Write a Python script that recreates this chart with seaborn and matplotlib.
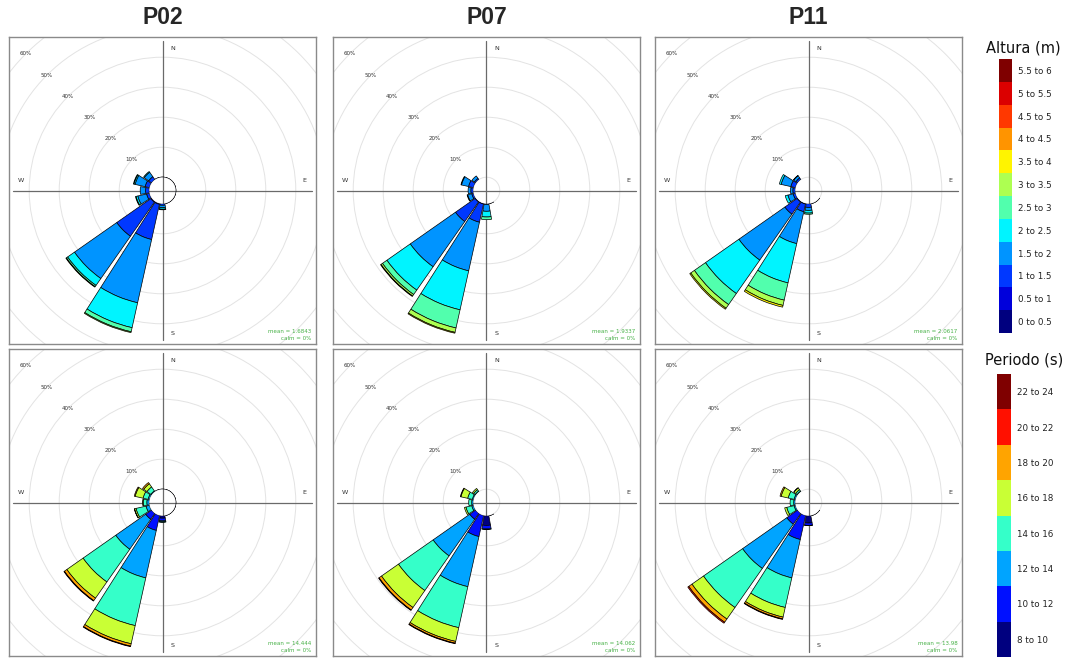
import numpy as np
import matplotlib
matplotlib.use("Agg")
import matplotlib.pyplot as plt
import seaborn as sns
from matplotlib.colors import ListedColormap
from matplotlib.patches import Circle

sns.set_theme(style="white")
plt.rcParams['font.family'] = ['DejaVu Sans']

# ---------------- data ----------------
STATIONS = ["P02", "P07", "P11"]
ALTURA_BINS = ["0 to 0.5", "0.5 to 1", "1 to 1.5", "1.5 to 2", "2 to 2.5", "2.5 to 3",
               "3 to 3.5", "3.5 to 4", "4 to 4.5", "4.5 to 5", "5 to 5.5", "5.5 to 6"]
PERIODO_BINS = ["8 to 10", "10 to 12", "12 to 14", "14 to 16", "16 to 18",
                "18 to 20", "20 to 22", "22 to 24"]
JET_ANCHORS = ["#00007F", "#0000FF", "#007FFF", "#00FFFF", "#7FFF7F",
               "#FFFF00", "#FF7F00", "#FF0000", "#7F0000"]

# frequency (%) per direction sector, stacked by bin (lowest bin first)
P02_ALTURA = {337.5: [0.05], 0: [0.05], 22.5: [0.05], 45: [0.05], 67.5: [0.05],
              90: [0.05], 112.5: [0.05], 135: [0.05], 157.5: [0.05],
              180: [0, 0, 0.5, 0.8, 0.5, 0.2],
              202.5: [0, 0.3, 12.0, 21.6, 8.5, 1.4, 0.3],
              225: [0, 0.3, 13.9, 17.2, 2.8, 0.5, 0.2],
              247.5: [0, 0, 1.0, 3.0, 0.6, 0.2],
              270: [0, 0, 1.2, 1.8],
              292.5: [0, 0, 1.5, 3.4, 0.4, 0.2],
              315: [0, 0, 1.2, 1.8, 0.3]}
P07_ALTURA = {157.5: [0.05],
              180: [0, 0, 0.2, 2.3, 1.9, 0.9],
              202.5: [0, 0.2, 6.2, 16.6, 13.3, 6.2, 1.5, 0.3],
              225: [0, 0.2, 8.0, 18.4, 9.5, 1.8, 0.6, 0.2],
              247.5: [0, 0, 0.6, 1.4, 0.2],
              270: [0, 0, 0.8, 0.9],
              292.5: [0, 0, 1.7, 2.4, 0.2],
              315: [0, 0, 0.5, 1.0]}
P11_ALTURA = {135: [0.05], 157.5: [0.05],
              180: [0, 0, 1.2, 1.0, 0.9, 0.4],
              202.5: [0, 0.2, 2.6, 10.9, 13.4, 5.9, 1.8, 0.6],
              225: [0, 0.2, 5.0, 18.7, 13.6, 4.5, 1.5, 0.4],
              247.5: [0, 0, 0.8, 1.8, 0.9],
              270: [0, 0, 0.8, 0.8],
              292.5: [0, 0, 1.6, 3.3, 0.6],
              315: [0, 0, 0.7, 0.9, 0.1]}
P02_PERIODO = {337.5: [0.05], 0: [0.05], 22.5: [0.05], 45: [0.05], 67.5: [0.05],
               90: [0.05], 112.5: [0.05], 135: [0.05], 157.5: [0.05],
               180: [0.8, 0.9, 0.3, 0.2],
               202.5: [0, 5.1, 16.2, 16.3, 6.2, 0.8, 0.2],
               225: [0, 2.4, 12.2, 13.3, 6.6, 1.0, 0.2],
               247.5: [0, 0, 1.2, 3.4, 0.5, 0.1],
               270: [0, 0, 0.8, 1.2, 0.2],
               292.5: [0, 0, 0.5, 1.7, 2.7, 0.3],
               315: [0, 0, 0.3, 1.6, 1.3, 0.5]}
P07_PERIODO = {157.5: [0.05],
               180: [3.2, 1.2, 0.2],
               202.5: [0, 7.2, 17.1, 14.0, 4.7, 0.6, 0.2],
               225: [0, 2.4, 14.9, 14.1, 6.9, 1.0, 0.2],
               247.5: [0, 0, 0.6, 2.0, 0.5],
               270: [0, 0, 0.5, 1.0],
               292.5: [0, 0, 0.4, 1.6, 2.3, 0.2],
               315: [0, 0, 0.2, 0.6, 0.5]}
P11_PERIODO = {135: [0.05], 157.5: [0.05],
               180: [2.4, 0.8, 0.1],
               202.5: [0, 8.2, 13.1, 10.1, 3.3, 0.6, 0.2],
               225: [0, 4.4, 18.0, 15.9, 4.7, 1.3, 0.4],
               247.5: [0, 0, 0.5, 2.5, 0.7],
               270: [0, 0, 0.5, 1.2],
               292.5: [0, 0, 0.5, 2.0, 2.4, 0.4],
               315: [0, 0, 0.2, 0.6, 0.7, 0.1]}
MEANS_ALTURA = ["1.6843", "1.9337", "2.0617"]
MEANS_PERIODO = ["14.444", "14.062", "13.98"]
GRID_PCT = [0, 10, 20, 30, 40, 50, 60]

ALT_COLORS = sns.blend_palette(JET_ANCHORS, n_colors=len(ALTURA_BINS))
PER_COLORS = sns.blend_palette(JET_ANCHORS, n_colors=len(PERIODO_BINS))

# ---------------- layout ----------------
FW, FH = 1068, 660
fig = plt.figure(figsize=(FW / 100, FH / 100), dpi=100)
BOX = 307          # panel size in px
PX_PER_UNIT = 3.0  # 10 % = 30 px
HALF = BOX / 2 / PX_PER_UNIT
HOLE = 4.43
AXLINE = 49.7
CENTERS_X = [162.5, 486.5, 808.5]
CENTERS_Y = [190.5, 502.5]
GREEN = "#45b045"


def rect_for(cx, cy, w, h):
    return [(cx - w / 2) / FW, 1 - (cy + h / 2) / FH, w / FW, h / FH]


def panel(cx, cy, data, colors, mean_txt, tag):
    rect = rect_for(cx, cy, BOX, BOX)
    ax = fig.add_axes(rect, label="bg" + tag)
    ax.set_xlim(-HALF, HALF)
    ax.set_ylim(-HALF, HALF)
    ax.set_xticks([])
    ax.set_yticks([])
    for s in ax.spines.values():
        s.set_visible(True)
        s.set_color("#8a8a8a")
        s.set_linewidth(1.0)
    for p in GRID_PCT:
        ax.add_patch(Circle((0, 0), HOLE + p, fill=False, ec="#e3e3e3", lw=0.7))
    ax.plot([-AXLINE, AXLINE], [0, 0], color="#6a6a6a", lw=0.9)
    ax.plot([0, 0], [-AXLINE, AXLINE], color="#6a6a6a", lw=0.9)
    fs = 4.6
    ax.text(3.3, 47.3, "N", fontsize=fs, ha="center", va="center", color="#333333")
    ax.text(3.3, -47.6, "S", fontsize=fs, ha="center", va="center", color="#333333")
    ax.text(-47.3, 3.3, "W", fontsize=fs, ha="center", va="center", color="#333333")
    ax.text(47.3, 3.3, "E", fontsize=fs, ha="center", va="center", color="#333333")
    for p in GRID_PCT[1:]:
        r = (HOLE + p) / np.sqrt(2)
        ax.text(-r, r, f"{p}%", fontsize=4.0, ha="center", va="center", color="#333333")
    ax.text(HALF - 1.5, -HALF + 4.3, f"mean = {mean_txt}", fontsize=4.0,
            ha="right", va="center", color=GREEN)
    ax.text(HALF - 1.5, -HALF + 2.0, "calm = 0%", fontsize=4.0,
            ha="right", va="center", color=GREEN)

    pax = fig.add_axes(rect, projection="polar", label="polar" + tag)
    pax.set_theta_zero_location("N")
    pax.set_theta_direction(-1)
    pax.set_rorigin(-HOLE)
    pax.set_rlim(0, HALF - HOLE)
    pax.patch.set_alpha(0)
    pax.axis("off")
    for d, vals in data.items():
        bottom = 0.0
        for i, v in enumerate(vals):
            if v <= 0:
                continue
            pax.bar(np.deg2rad(d), v, width=np.deg2rad(20), bottom=bottom,
                    color=colors[i], edgecolor="black", linewidth=0.5, align="center")
            bottom += v


alt_sets = [P02_ALTURA, P07_ALTURA, P11_ALTURA]
per_sets = [P02_PERIODO, P07_PERIODO, P11_PERIODO]
for j in range(3):
    panel(CENTERS_X[j], CENTERS_Y[0], alt_sets[j], ALT_COLORS, MEANS_ALTURA[j], f"a{j}")
    panel(CENTERS_X[j], CENTERS_Y[1], per_sets[j], PER_COLORS, MEANS_PERIODO[j], f"p{j}")
    fig.text(CENTERS_X[j] / FW, 1 - 18 / FH, STATIONS[j], fontsize=16.5,
             fontweight="bold", family="Liberation Sans", ha="center", va="center")


def legend(x_left, y_top, w, h_each, colors, labels, title, title_xy, tag):
    n = len(colors)
    H = n * h_each
    lax = fig.add_axes([x_left / FW, 1 - (y_top + H) / FH, w / FW, H / FH], label=tag)
    vals = np.arange(n)[::-1].reshape(-1, 1)
    sns.heatmap(vals, cmap=ListedColormap(list(colors)), vmin=-0.5, vmax=n - 0.5,
                cbar=False, ax=lax, xticklabels=False, yticklabels=labels[::-1])
    lax.yaxis.tick_right()
    lax.tick_params(axis="y", length=0, pad=4, labelsize=6.3, rotation=0)
    for t in lax.get_yticklabels():
        t.set_color("#222222")
    fig.text(title_xy[0] / FW, 1 - title_xy[1] / FH, title, fontsize=10.5,
             ha="center", va="center", color="#111111")


legend(999, 59, 13, 274 / 12, ALT_COLORS, ALTURA_BINS, "Altura (m)", (1023, 48), "lega")
legend(997, 374, 14, 283 / 8, PER_COLORS, PERIODO_BINS, "Periodo (s)", (1024, 360), "legp")

fig.savefig("out.png", dpi=100)
